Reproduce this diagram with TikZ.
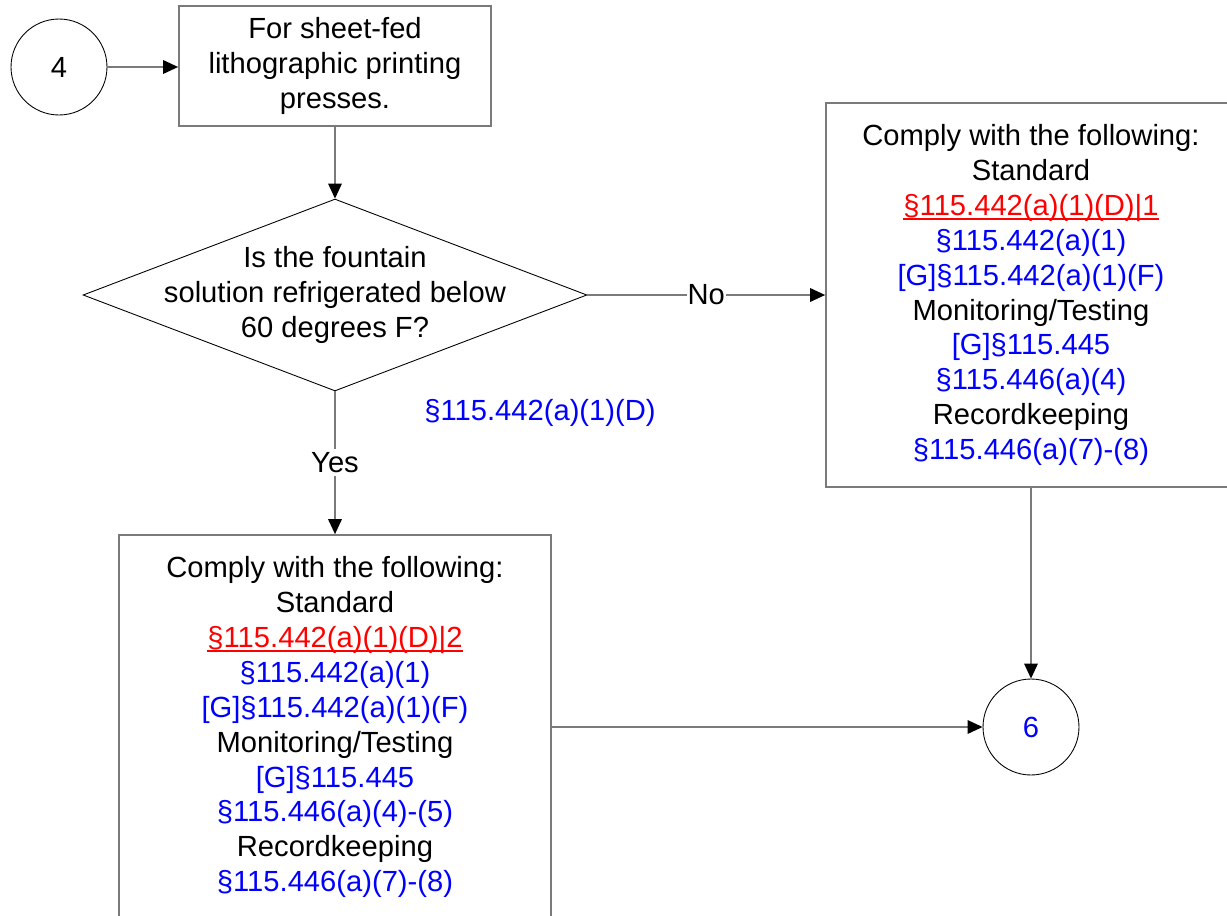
\documentclass[tikz,border=0pt]{standalone}
\usepackage{fontspec}
\setmainfont{Liberation Sans}
\usepackage{pgf,tikz}
\usetikzlibrary{shapes, calc, arrows.meta}

\definecolor{linegray}{RGB}{122,122,122}
\definecolor{refblue}{RGB}{0,0,255}
\definecolor{refred}{RGB}{255,0,0}

\newsavebox{\regbox}
\newcommand{\regref}[1]{\textcolor{refblue}{#1}}
\newcommand{\regkey}[1]{\sbox{\regbox}{\color{refred}#1}\textcolor{refred}{\rlap{\rule[-2.6pt]{\wd\regbox}{0.9pt}}\usebox{\regbox}}}

\begin{document}
\begin{tikzpicture}[x=0.02cm, y=-0.02cm, >={Triangle[color=black, length=0.3cm, width=0.27cm]},
  every node/.style={font=\fontsize{16.6}{19.9}\selectfont},
  conn/.style={->, draw=linegray, line width=1pt},
  onconn/.style={fill=white, inner sep=2pt},
  box/.style={draw=linegray, line width=1pt, align=center, inner sep=0pt},
  decision/.style={diamond, draw=black, line width=0.5pt, minimum width=10.08cm, minimum height=3.84cm, inner sep=0pt},
  connector/.style={circle, draw=black, line width=0.5pt, minimum size=1.92cm, inner sep=0pt}]

\useasboundingbox (0,0) rectangle (1227,916);
\clip (0,0) rectangle (1227,916);

\node[connector] (c4) at (59,67) {4};
\node[box, minimum width=6.24cm, minimum height=2.4cm] (press) at (335,66)
  {For sheet-fed\\lithographic printing\\presses.};

\node[decision] (chill) at (335,295) {};
\node[align=center] (chilltext) at (chill) {Is the fountain\\solution refrigerated below\\60 degrees F?};
\node (cite) at (540,413) {\regref{§115.442(a)(1)(D)}};

\node[box, minimum width=8.2cm, minimum height=7.68cm] (nobox) at (1031,295)
  {Comply with the following:\\Standard\\\regkey{§115.442(a)(1)(D)|1}\\\regref{§115.442(a)(1)}\\
   \regref{[G]§115.442(a)(1)(F)}\\Monitoring/Testing\\\regref{[G]§115.445}\\\regref{§115.446(a)(4)}\\
   Recordkeeping\\\regref{§115.446(a)(7)-(8)}};

\node[box, minimum width=8.64cm, minimum height=7.68cm] (yesbox) at (335,727)
  {Comply with the following:\\Standard\\\regkey{§115.442(a)(1)(D)|2}\\\regref{§115.442(a)(1)}\\
   \regref{[G]§115.442(a)(1)(F)}\\Monitoring/Testing\\\regref{[G]§115.445}\\\regref{§115.446(a)(4)-(5)}\\
   Recordkeeping\\\regref{§115.446(a)(7)-(8)}};

\node[connector, text=refblue] (c6) at (1031,727) {6};

\draw[conn] (c4) -- (c4 -| press.west);
\draw[conn] (press) -- (chill);
\draw[conn] (chill) -- node[onconn, inner sep=0.5pt] (nolabel) {No} (nobox);
\draw[conn] (chill) -- node[onconn] (yeslabel) {Yes} (yesbox);
\draw[conn] (yesbox) -- (c6);
\draw[conn] (nobox) -- (c6);

\end{tikzpicture}
\end{document}
